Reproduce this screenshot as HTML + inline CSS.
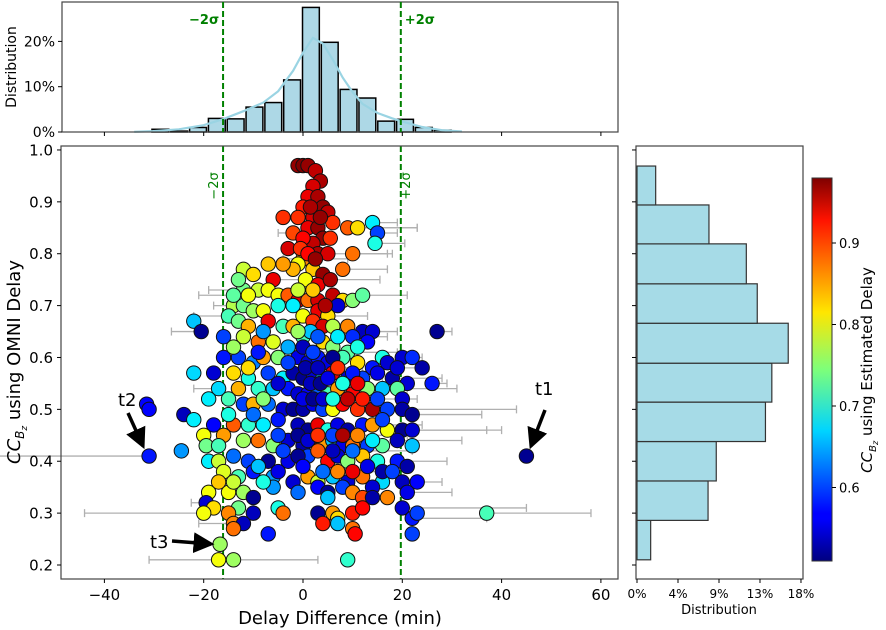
<!DOCTYPE html>
<html><head><meta charset="utf-8"><style>
body{margin:0;background:#fff}
svg{display:block;font-family:"DejaVu Sans","Liberation Sans",sans-serif}
</style></head><body>
<svg id="chart" width="886" height="630" viewBox="0 0 886 630" xmlns="http://www.w3.org/2000/svg">
<defs>
<linearGradient id="jet" x1="0" y1="1" x2="0" y2="0">
<stop offset="0" stop-color="#00007f"/><stop offset="0.11" stop-color="#0000ff"/><stop offset="0.125" stop-color="#0000ff"/><stop offset="0.34" stop-color="#00d4ff"/><stop offset="0.5" stop-color="#7dff7a"/><stop offset="0.65" stop-color="#ffe600"/><stop offset="0.89" stop-color="#ff1300"/><stop offset="1" stop-color="#7f0000"/>
</linearGradient>
<marker id="ah" markerWidth="6" markerHeight="6" refX="5" refY="3" orient="auto" markerUnits="strokeWidth"><path d="M0,0 L6,3 L0,6 z" fill="#000"/></marker>
</defs>
<g id="layer"></g>
</svg>
<script>
// ---- data ----
const topBinIndex = [-8,-7,-6,-5,-4,-3,-2,-1,0,1,2,3,4,5,6,7];
const topBinPercent = [0.6,0.2,1.0,3.0,2.9,5.5,6.5,11.5,27.5,19.8,9.4,7.5,2.4,2.8,1.0,0.4];
const kdeX = [-34,-30,-25,-20,-16,-12,-8,-5,-2,0,2,4,6,8,10,12,15,18,20,24,28,32];
const kdeY = [0.05,0.2,0.6,1.5,2.9,4.6,6.5,9,13.5,17.5,20.8,19.5,16,12,8.8,6.2,4.2,3,2.3,1.1,0.4,0.1];
const rightBinEdges = [0.21,0.286,0.362,0.438,0.514,0.589,0.666,0.742,0.819,0.894,0.969];
const rightBinPercent = [1.5,7.8,8.7,14.1,14.8,16.6,13.2,12.0,7.9,2.05];
const xTicks = [-40,-20,0,20,40,60];
const yTicks = [0.2,0.3,0.4,0.5,0.6,0.7,0.8,0.9,1.0];
const topYTicks = [0,10,20];
const rightXTicks = [0,4.5,9,13.5,18];
const rightXLabels = ['0%','4%','9%','13%','18%'];
const cbTicks = [0.6,0.7,0.8,0.9];
const sigmaLo = -16.1, sigmaHi = 19.7;
// scatter points: [delayDiff, ccOmni, ccEstimated, errLeft, errRight]
const pts = [
[-1,0.97,0.97,0,0],[0,0.97,0.98,0,0],[1,0.97,0.97,0,0],[2.5,0.96,0.95,0,0],[3.5,0.94,0.96,0,0],[2,0.93,0.94,0,0],[1,0.91,0.93,0,0],[3,0.91,0.96,0,0],
[0,0.89,0.91,0,0],[4,0.89,0.97,0,0],[-1,0.87,0.9,0,0],[2,0.87,0.94,0,0],[5,0.88,0.95,0,0],[-4,0.87,0.9,0,0],[1,0.85,0.93,0,0],[3,0.85,0.97,0,0],
[6,0.86,0.9,0,0],[-2,0.84,0.89,3,0],[4,0.83,0.97,0,0],[2,0.82,0.95,0,0],[0,0.83,0.92,0,0],[5.5,0.83,0.9,0,0],[9,0.85,0.88,0,14],[11,0.85,0.82,0,12],
[14,0.86,0.68,0,5],[15,0.84,0.6,0,4],[14.5,0.82,0.7,0,6],[-3,0.81,0.94,0,0],[3,0.8,0.96,0,0],[0,0.79,0.86,4,9],[-1,0.78,0.8,0,0],[10,0.8,0.87,0,8],
[2,0.77,0.83,0,0],[4,0.76,0.97,0,0],[-6,0.75,0.93,0,10],[-12,0.73,0.74,7,0],[-9,0.73,0.78,0,0],[-7,0.73,0.8,0,6],[-5,0.72,0.8,0,0],[-3,0.72,0.88,0,0],
[-1,0.71,0.93,0,12],[1,0.71,0.87,0,0],[3,0.71,0.94,0,0],[6,0.72,0.95,0,0],[8,0.71,0.82,0,0],[10,0.71,0.75,0,0],[12,0.72,0.73,0,9],[-14,0.7,0.77,0,0],
[-12,0.7,0.74,6,0],[-10,0.69,0.76,0,0],[-8,0.69,0.8,0,0],[-5,0.7,0.7,0,0],[-2,0.7,0.68,0,0],[0,0.68,0.8,0,0],[3,0.69,0.93,0,0],[5,0.68,0.82,0,8],
[7,0.7,0.55,0,0],[-15,0.68,0.72,7,0],[-13,0.67,0.74,0,0],[-11,0.66,0.84,0,0],[-7,0.67,0.93,0,0],[-4,0.66,0.72,0,0],[-2,0.66,0.84,0,0],[2,0.67,0.9,0,0],
[4,0.66,0.94,0,0],[6,0.66,0.77,0,0],[9,0.66,0.86,0,0],[12,0.65,0.54,0,0],[14,0.65,0.55,0,5],[13,0.63,0.57,0,0],[-12,0.64,0.78,0,0],[-9,0.63,0.87,0,0],
[-6,0.63,0.79,0,0],[-3,0.62,0.65,0,0],[0,0.64,0.72,0,0],[4,0.63,0.82,0,0],[6,0.62,0.75,0,0],[9,0.61,0.73,0,10],[16,0.6,0.7,0,0],[-22,0.67,0.66,0,0],
[-20.5,0.65,0.52,6,0],[27,0.65,0.52,0,3],[-16,0.6,0.58,0,4],[-13,0.6,0.6,0,0],[-10,0.59,0.63,0,0],[-8,0.6,0.85,0,0],[-5,0.6,0.75,0,0],[-1,0.6,0.56,0,0],
[1,0.59,0.55,0,0],[3,0.6,0.58,0,6],[5,0.59,0.56,0,0],[8,0.6,0.72,0,0],[11,0.59,0.82,0,0],[14,0.58,0.58,0,0],[17,0.59,0.55,0,0],[20,0.6,0.55,0,3],
[22,0.6,0.59,0,2],[24,0.58,0.53,0,0],[-22,0.57,0.67,0,0],[-18,0.57,0.55,0,0],[-14,0.57,0.82,0,0],[-11,0.56,0.7,0,0],[-7,0.57,0.6,0,0],[-4,0.56,0.68,0,0],
[-2,0.57,0.53,0,0],[0,0.56,0.52,0,0],[2,0.57,0.55,0,0],[4,0.56,0.66,0,0],[6,0.57,0.93,0,0],[9,0.56,0.55,0,0],[12,0.56,0.6,0,0],[15,0.57,0.56,0,0],
[18,0.56,0.53,0,10],[21,0.55,0.55,0,0],[26,0.55,0.58,0,3],[-31.5,0.51,0.57,0,0],[-31,0.5,0.57,0,0],[-17,0.54,0.67,5,0],[-13,0.54,0.84,0,0],[-9,0.54,0.71,0,0],
[-6,0.54,0.66,0,0],[-3,0.54,0.58,0,0],[-1,0.53,0.55,0,0],[1,0.53,0.57,0,0],[3,0.54,0.61,0,0],[5,0.53,0.72,0,0],[7,0.54,0.85,0,0],[10,0.53,0.92,0,0],
[13,0.54,0.75,0,8],[16,0.54,0.66,0,0],[19,0.54,0.73,0,12],[20,0.52,0.55,0,0],[-19,0.52,0.68,0,0],[-15,0.52,0.72,0,0],[-12,0.51,0.6,0,0],[-10,0.51,0.84,0,0],
[-7,0.51,0.62,0,0],[-4,0.5,0.55,0,0],[-2,0.5,0.52,0,0],[0,0.5,0.53,0,0],[2,0.51,0.56,0,0],[4,0.5,0.6,0,0],[6,0.5,0.8,0,0],[8,0.51,0.92,0,0],
[11,0.5,0.9,0,0],[14,0.5,0.96,0,0],[17,0.5,0.6,0,0],[20,0.5,0.53,0,23],[22,0.49,0.52,0,14],[-24,0.49,0.54,0,0],[-22,0.48,0.68,0,0],[-18,0.47,0.57,0,0],
[-14,0.47,0.88,0,0],[-11,0.47,0.71,0,0],[-8,0.47,0.68,0,0],[-5,0.48,0.58,0,0],[-1,0.47,0.54,0,0],[1,0.46,0.52,0,0],[3,0.47,0.93,0,0],[5,0.46,0.7,0,0],
[7,0.47,0.56,0,0],[9,0.46,0.53,0,0],[12,0.47,0.58,0,0],[14,0.47,0.85,0,10],[17,0.46,0.8,0,0],[20,0.46,0.52,0,20],[22,0.46,0.55,0,15],[-20,0.45,0.8,0,0],
[-16,0.45,0.85,0,0],[-12,0.44,0.76,0,0],[-9,0.44,0.87,0,0],[-6,0.43,0.75,0,0],[-3,0.44,0.55,0,0],[0,0.43,0.53,0,0],[2,0.44,0.97,0,0],[4,0.43,0.85,0,0],
[6,0.44,0.66,0,0],[8,0.43,0.56,0,0],[10,0.43,0.87,0,0],[13,0.43,0.6,0,0],[16,0.43,0.73,0,0],[19,0.44,0.54,0,13],[22,0.43,0.66,0,0],[-31,0.41,0.58,34,0],
[-24.5,0.42,0.64,0,0],[-19.5,0.43,0.74,0,0],[-17,0.43,0.72,0,0],[-19,0.4,0.68,0,0],[-17,0.4,0.78,0,0],[-14,0.41,0.62,0,0],[-11,0.4,0.6,0,0],[-7,0.4,0.52,0,0],
[-3,0.4,0.56,0,0],[1,0.41,0.6,0,0],[5,0.4,0.92,0,0],[7,0.41,0.55,0,0],[9,0.4,0.75,0,0],[12,0.41,0.83,0,0],[15,0.4,0.7,0,0],[19,0.4,0.58,0,10],
[21,0.39,0.53,0,0],[45,0.41,0.52,0,0],[-16,0.38,0.79,0,0],[-13,0.37,0.72,0,0],[-10,0.38,0.58,0,0],[-6,0.37,0.64,0,0],[-2,0.36,0.55,0,0],[1,0.37,0.85,0,0],
[3,0.36,0.78,0,0],[6,0.37,0.66,0,0],[9,0.36,0.55,0,0],[12,0.37,0.87,0,0],[16,0.36,0.67,0,0],[20,0.36,0.54,0,8],[23,0.36,0.57,0,0],[-19,0.34,0.8,0,0],
[-15,0.34,0.8,0,0],[-12,0.34,0.76,0,0],[-10,0.33,0.52,0,0],[-6,0.35,0.64,0,0],[-1,0.34,0.62,0,0],[3,0.35,0.57,0,0],[5,0.34,0.52,0,0],[8,0.35,0.6,0,0],
[10,0.34,0.86,0,0],[12,0.33,0.89,0,0],[14,0.35,0.55,0,0],[17,0.33,0.86,0,0],[-19.5,0.32,0.55,3,0],[-18,0.31,0.82,0,0],[-13,0.31,0.74,0,0],[-10,0.3,0.54,0,0],
[-5,0.31,0.7,0,0],[-20,0.3,0.8,24,0],[-15,0.3,0.86,0,0],[-4,0.3,0.87,0,0],[3,0.3,0.52,0,0],[6,0.3,0.85,0,0],[7,0.29,0.82,0,0],[10,0.3,0.91,0,0],
[12,0.31,0.92,0,0],[20,0.31,0.55,0,25],[22,0.29,0.58,0,15],[23,0.3,0.6,0,0],[37,0.3,0.72,0,21],[-14,0.28,0.86,0,0],[-12,0.28,0.54,9,0],[-14,0.27,0.87,0,0],
[4,0.28,0.91,0,0],[7,0.28,0.66,0,0],[10,0.27,0.87,0,0],[10.5,0.26,0.92,0,0],[-7,0.26,0.58,0,0],[22,0.26,0.6,0,0],[-16.7,0.24,0.76,0,0],[-17,0.21,0.8,14,0],
[-14,0.21,0.76,0,17],[9,0.21,0.71,0,0],
[1.5,0.89,0.96,0,0],[3.5,0.87,0.97,0,0],[-0.5,0.81,0.9,0,0],[1,0.8,0.92,0,0],[5,0.8,0.94,0,12],[2.5,0.79,0.97,0,0],[-2,0.77,0.84,0,0],[0.5,0.75,0.8,0,0],
[3,0.74,0.93,0,0],[5.5,0.75,0.96,0,10],[-4,0.78,0.85,0,0],[-12,0.77,0.78,0,0],[-13,0.75,0.74,0,0],[-10,0.76,0.82,0,0],[-7,0.78,0.83,0,0],[8,0.77,0.87,0,9],
[-14,0.72,0.73,7,0],[-11,0.72,0.8,0,0],[-1,0.73,0.78,0,0],[2,0.73,0.83,0,0],[4.5,0.7,0.96,0,0],[1.5,0.65,0.66,0,0],[3,0.64,0.61,0,0],[-1,0.65,0.76,0,0],
[7,0.64,0.68,0,0],[10,0.64,0.59,0,7],[11,0.62,0.7,0,0],[-14,0.62,0.76,0,0],[-8,0.65,0.64,0,0],[0,0.62,0.54,0,0],[2,0.61,0.6,0,8],[6,0.6,0.52,0,0],
[-3,0.59,0.6,0,0],[-11,0.58,0.82,0,0],[0.5,0.58,0.53,0,0],[3,0.58,0.54,0,9],[7,0.58,0.9,0,0],[10,0.57,0.58,0,0],[-5,0.55,0.55,0,0],[1.5,0.55,0.54,0,0],
[3.5,0.55,0.52,0,0],[5,0.56,0.56,0,11],[8,0.55,0.7,0,0],[11,0.55,0.93,0,0],[-8,0.52,0.75,0,0],[0,0.52,0.56,0,0],[2,0.52,0.52,0,0],[4,0.52,0.55,0,0],
[6,0.52,0.7,0,0],[9,0.52,0.95,0,0],[12,0.52,0.91,0,0],[15,0.52,0.6,0,8],[-5,0.45,0.6,0,0],[-1,0.45,0.52,0,0],[1,0.44,0.55,0,0],[3,0.45,0.9,0,0],
[6,0.45,0.6,0,0],[8,0.45,0.96,0,0],[11,0.45,0.86,0,10],[14,0.44,0.68,0,0],[-4,0.42,0.6,0,0],[-1,0.41,0.52,0,0],[3,0.42,0.88,0,0],[6,0.42,0.54,0,0],
[10,0.42,0.62,0,12],[13,0.39,0.56,0,0],[-9,0.39,0.66,0,0],[-5,0.38,0.56,0,0],[0,0.39,0.57,0,0],[4,0.38,0.62,0,0],[7,0.38,0.86,0,0],[10,0.38,0.93,0,6],
[16,0.38,0.53,0,0],[-14,0.36,0.78,0,0],[-8,0.36,0.7,0,0],[5,0.33,0.66,0,0],[14,0.33,0.53,0,0],[18,0.38,0.6,0,0],[-17,0.36,0.83,0,0],[21,0.34,0.56,0,9],
[19,0.58,0.55,0,6],[-9,0.61,0.58,0,0],[-16,0.64,0.6,0,0],[-10,0.49,0.62,0,0],[16,0.48,0.6,0,0],[-15,0.49,0.7,0,0]
];
// ---- scales ----
const X = v => 303 + v*4.965;
const Y = v => 565 - (v-0.2)*518.8;
const TY = p => 132 - p*4.53;
const RX = p => 637 + p*9.11;
const CBY = v => 243 - (v-0.9)*815;
const cbMin=0.512, cbMax=0.98;
function jet(v){let t=(v-cbMin)/(cbMax-cbMin);t=Math.max(0,Math.min(1,t));
 const f=x=>Math.max(0,Math.min(1,x));
 const r=f(Math.min(4*t-1.5,-4*t+4.5)),g=f(Math.min(4*t-0.5,-4*t+3.5)),b=f(Math.min(4*t+0.5,-4*t+2.5));
 return `rgb(${Math.round(r*255)},${Math.round(g*255)},${Math.round(b*255)})`;}
const NS='http://www.w3.org/2000/svg';
const layer=document.getElementById('layer');
function el(tag,attrs,parent,text){const e=document.createElementNS(NS,tag);for(const k in attrs)e.setAttribute(k,attrs[k]);if(text!==undefined)e.textContent=text;(parent||layer).appendChild(e);return e;}

// ---- top histogram ----
const topG=el('g',{});


const bw=3.79, b0=-0.3;
topBinIndex.forEach((k,i)=>{const x0=X(b0+k*bw),x1=X(b0+(k+1)*bw);
 const r=el('rect',{x:x0+1,y:TY(topBinPercent[i]),width:x1-x0-2,height:132-TY(topBinPercent[i]),fill:'#add8e6',stroke:'#000','stroke-width':1.5},topG);
 
 });
const kd=kdeX.map((x,i)=>(i?'L':'M')+X(x).toFixed(1)+','+TY(kdeY[i]).toFixed(1)).join(' ');
const kl=el('path',{d:kd,fill:'none',stroke:'#9ad4e3','stroke-width':2.2},topG);


el('rect',{x:618,y:0,width:20,height:140,fill:'#fff'},topG);
el('rect',{x:0,y:0,width:61,height:140,fill:'#fff'},topG);
el('rect',{x:62,y:2,width:556,height:130,fill:'none',stroke:'#444','stroke-width':1.2},topG);
topYTicks.forEach(p=>{el('line',{x1:58,x2:62,y1:TY(p),y2:TY(p),stroke:'#000'},topG);
 const t=el('text',{x:55,y:TY(p)+5,'text-anchor':'end','font-size':14},topG,p+'%');
 
 });
xTicks.forEach(v=>{if(X(v)<618)el('line',{x1:X(v),x2:X(v),y1:132,y2:136,stroke:'#000'},topG);});
const tyl=el('text',{x:16,y:67,'text-anchor':'middle','font-size':14,transform:'rotate(-90 16 67)'},topG,'Distribution');


[[sigmaLo,'−2σ','end',-4],[sigmaHi,'+2σ','start',4]].forEach(s=>{
 el('line',{x1:X(s[0]),x2:X(s[0]),y1:2,y2:132,stroke:'#008000','stroke-width':2,'stroke-dasharray':'6,3'},topG);
 const t=el('text',{x:X(s[0])+s[3],y:24,'text-anchor':s[2],'font-size':13,'font-weight':'bold',fill:'#008000'},topG,s[1]);
 
 });

// ---- main scatter ----
const mainG=el('g',{});


const errG=el('g',{stroke:'#b0b0b0','stroke-width':1.3},mainG);
pts.forEach(p=>{if(p[3]||p[4]){const y=Y(p[1]),a=X(p[0]-p[3]),b=X(p[0]+p[4]);
 const l=el('line',{x1:a,x2:b,y1:y,y2:y},errG);
 
 
 el('line',{x1:a,x2:a,y1:y-4,y2:y+4},errG);el('line',{x1:b,x2:b,y1:y-4,y2:y+4},errG);}});
[[sigmaLo,'−2σ',-5],[sigmaHi,'+2σ',9]].forEach(s=>{
 el('line',{x1:X(s[0]),x2:X(s[0]),y1:146,y2:579,stroke:'#008000','stroke-width':2,'stroke-dasharray':'6,3'},mainG);
 const tx=X(s[0])+s[2];
 const t=el('text',{x:tx,y:186,'text-anchor':'middle','font-size':13,fill:'#008000',transform:`rotate(-90 ${tx} 186)`},mainG,s[1]);
 
 });
pts.forEach(p=>{const c=el('circle',{cx:X(p[0]),cy:Y(p[1]),r:7.2,fill:jet(p[2]),stroke:'#111','stroke-width':1},mainG);
 
 });
el('rect',{x:61,y:146,width:557,height:433,fill:'none',stroke:'#444','stroke-width':1.2},mainG);
yTicks.forEach(v=>{el('line',{x1:57,x2:61,y1:Y(v),y2:Y(v),stroke:'#000'},mainG);
 const t=el('text',{x:53,y:Y(v)+5.5,'text-anchor':'end','font-size':15},mainG,v.toFixed(1));
 
 });
xTicks.forEach(v=>{el('line',{x1:X(v),x2:X(v),y1:579,y2:583,stroke:'#000'},mainG);
 const t=el('text',{x:X(v),y:600,'text-anchor':'middle','font-size':15},mainG,v<0?'−'+(-v):String(v));
 
 });
const xt=el('text',{x:340,y:624,'text-anchor':'middle','font-size':18},mainG,'Delay Difference (min)');


const yt=el('text',{x:20,y:362,'text-anchor':'middle','font-size':18,transform:'rotate(-90 20 362)'},mainG);


yt.innerHTML='<tspan font-style="italic">CC</tspan><tspan font-style="italic" font-size="12" dy="4">B</tspan><tspan font-style="italic" font-size="9" dy="3">z</tspan><tspan dy="-7"> using OMNI Delay</tspan>';
[['t1',535,395,[545,410,531,446]],['t2',118,406,[128,413,143,446]],['t3',150,548,[172,541,211,544]]].forEach(a=>{
 const t=el('text',{x:a[1],y:a[2],'font-size':18},mainG,a[0]);
 
 
 const q=a[3];el('line',{x1:q[0],y1:q[1],x2:q[2],y2:q[3],stroke:'#000','stroke-width':3.5,'marker-end':'url(#ah)'},mainG);});

// ---- right histogram ----
const rG=el('g',{});


rightBinPercent.forEach((p,i)=>{const y0=Y(rightBinEdges[i+1]),y1=Y(rightBinEdges[i]);
 const r=el('rect',{x:RX(0),y:y0,width:RX(p)-RX(0),height:y1-y0,fill:'#a6dbe7',stroke:'#333','stroke-width':1.2},rG);
 
 });
el('rect',{x:636,y:146,width:167,height:433,fill:'none',stroke:'#444','stroke-width':1.2},rG);
yTicks.forEach(v=>el('line',{x1:632,x2:636,y1:Y(v),y2:Y(v),stroke:'#000'},rG));
rightXTicks.forEach((p,i)=>{el('line',{x1:RX(p),x2:RX(p),y1:579,y2:583,stroke:'#000'},rG);
 const t=el('text',{x:RX(p),y:598,'text-anchor':'middle','font-size':12},rG,rightXLabels[i]);
 
 });
const rxt=el('text',{x:719,y:614,'text-anchor':'middle','font-size':13},rG,'Distribution');



// ---- colorbar ----
const cG=el('g',{});


el('rect',{x:812,y:178,width:20,height:383,fill:'url(#jet)',stroke:'#333','stroke-width':1},cG);
cbTicks.forEach(v=>{el('line',{x1:832,x2:836,y1:CBY(v),y2:CBY(v),stroke:'#000'},cG);
 const t=el('text',{x:839,y:CBY(v)+5,'font-size':13},cG,v.toFixed(1));
 
 });
const ct=el('text',{x:872,y:370,'text-anchor':'middle','font-size':15,transform:'rotate(-90 872 370)'},cG);


ct.innerHTML='<tspan font-style="italic">CC</tspan><tspan font-style="italic" font-size="10" dy="4">B</tspan><tspan font-style="italic" font-size="8" dy="2">z</tspan><tspan dy="-6"> using Estimated Delay</tspan>';
</script>
</body></html>
